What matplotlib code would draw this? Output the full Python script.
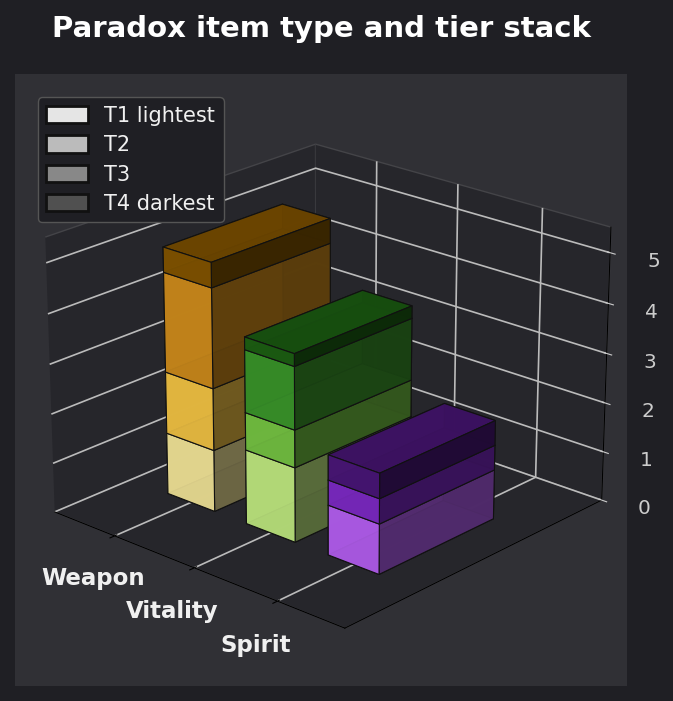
import numpy as np
import matplotlib
matplotlib.use("Agg")
import matplotlib.pyplot as plt
from matplotlib.patches import Patch

types = ["Weapon", "Vitality", "Spirit"]
tiers = ["T1 lightest", "T2", "T3", "T4 darkest"]

# stack heights per type, T1 upwards
t1 = [1.25, 1.5, 1.0]
t2 = [1.25, 0.75, 0.5]
t3 = [2.0, 1.25, 0.5]
t4 = [0.5, 0.25, 0.0]

tier_colors = [
    ["#fff0a0", "#c9f587", "#be64fe"],
    ["#ffcd47", "#7bce46", "#852cd0"],
    ["#d9931d", "#3c9c2c", "#4e187f"],
    ["#8a5900", "#1e6614", "#4e187f"],
]
legend_colors = ["#e5e5e5", "#bbbbbb", "#888888", "#505050"]

fig = plt.figure(figsize=(6.73, 7.01), dpi=100, facecolor="#1f1f24")
ax = fig.add_axes([0.022, 0.022, 0.91, 0.873], projection="3d", facecolor="#303035")
ax.view_init(elev=22, azim=-48)

# all boxes go in one call so matplotlib sorts their faces together
xs, zs, heights, colors = [], [], [], []
bottom = np.zeros(3)
for i, level in enumerate([t1, t2, t3, t4]):
    for j in range(3):
        if level[j] > 0:
            xs.append(j - 0.3)
            zs.append(bottom[j])
            heights.append(level[j])
            colors.append(tier_colors[i][j])
    bottom += np.array(level)

n = len(xs)
ax.bar3d(xs, np.full(n, -0.4), zs, np.full(n, 0.6), np.full(n, 0.8), heights,
         color=colors, edgecolor="#111111", linewidth=0.8, shade=True, alpha=0.96)

ax.set_xlim(-0.78, 2.78)
ax.set_ylim(-0.9, 0.9)
ax.set_zlim(0, 5.5)
ax.set_xticks(range(3))
ax.set_xticklabels(types, color="#f0f0f0", fontsize=16.5, fontweight="bold")
ax.set_yticks([])
ax.set_zticks(range(6))
ax.tick_params(axis="z", colors="#cccccc", labelsize=14.5, pad=10)
ax.tick_params(axis="x", pad=10)
for axis in (ax.xaxis, ax.yaxis, ax.zaxis):
    axis.set_pane_color("#26262b")
    axis.pane.set_edgecolor("#444448")
    axis.line.set_color("#000000")
    axis._axinfo["grid"]["color"] = "#bbbbbb"
    axis._axinfo["grid"]["linewidth"] = 1.2

handles = [Patch(facecolor=c, edgecolor="#111111", linewidth=2) for c in legend_colors]
ax.legend(handles, tiers, loc="upper left", bbox_to_anchor=(0.02, 0.978), fontsize=15,
          facecolor="#1f1f24", edgecolor="#555555", labelcolor="#f0f0f0", framealpha=1,
          labelspacing=0.45, handleheight=0.9)

fig.text(0.478, 0.959, "Paradox item type and tier stack", ha="center", va="center",
         color="white", fontsize=21, fontweight="bold")

fig.savefig("out.png", dpi=100, facecolor=fig.get_facecolor())
